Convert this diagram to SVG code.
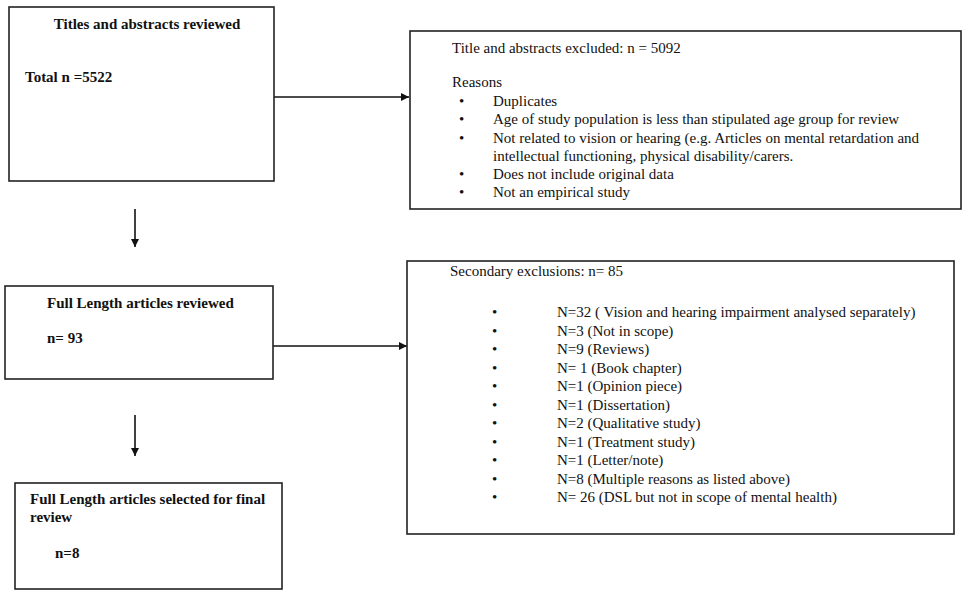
<svg xmlns="http://www.w3.org/2000/svg" width="964" height="591" viewBox="0 0 964 591">
<defs>
<style>
.box{fill:#fff;stroke:#222;stroke-width:1.6}
text{font-family:"Liberation Serif","Times New Roman",serif;font-size:15px;fill:#111}
.b{font-weight:bold}
.line{stroke:#111;stroke-width:1.6;fill:none}
</style>
<marker id="ah" viewBox="0 0 10 10" refX="10" refY="5" markerWidth="8" markerHeight="8" markerUnits="userSpaceOnUse" orient="auto">
<path d="M0,0 L10,5 L0,10 z" fill="#111"/>
</marker>
</defs>
<rect width="964" height="591" fill="#fff"/>
<g id="connectors">
<line class="line" x1="274" y1="97" x2="409" y2="97" marker-end="url(#ah)"/>
<line class="line" x1="135" y1="209" x2="135" y2="247" marker-end="url(#ah)"/>
<line class="line" x1="273" y1="346" x2="407" y2="346" marker-end="url(#ah)"/>
<line class="line" x1="135" y1="415" x2="135" y2="456" marker-end="url(#ah)"/>
</g>
<g id="n1">
<rect class="box" x="9" y="7" width="265" height="174"/>
<text class="b" x="147" y="29" text-anchor="middle">Titles and abstracts reviewed</text>
<text class="b" x="25" y="82">Total n =5522</text>
</g>
<g id="n2">
<rect class="box" x="410" y="31" width="551" height="178"/>
<text x="452" y="53">Title and abstracts excluded: n = 5092</text>
<text x="452" y="87">Reasons</text>
<g>
<text x="459" y="106">•</text><text x="493" y="106">Duplicates</text>
<text x="459" y="124">•</text><text x="493" y="124">Age of study population is less than stipulated age group for review</text>
<text x="459" y="142.5">•</text><text x="493" y="142.5">Not related to vision or hearing (e.g. Articles on mental retardation and</text>
<text x="493" y="160.5">intellectual functioning, physical disability/carers.</text>
<text x="459" y="179">•</text><text x="493" y="179">Does not include original data</text>
<text x="459" y="197">•</text><text x="493" y="197">Not an empirical study</text>
</g>
</g>
<g id="n3">
<rect class="box" x="5" y="286" width="268" height="93"/>
<text class="b" x="47" y="308">Full Length articles reviewed</text>
<text class="b" x="47" y="343">n= 93</text>
</g>
<g id="n4">
<rect class="box" x="407" y="261" width="547" height="273"/>
<text x="450" y="276">Secondary exclusions: n= 85</text>
<text x="492" y="317">•</text><text x="557" y="317">N=32 ( Vision and hearing impairment analysed separately)</text>
<text x="492" y="335.5">•</text><text x="557" y="335.5">N=3 (Not in scope)</text>
<text x="492" y="354">•</text><text x="557" y="354">N=9 (Reviews)</text>
<text x="492" y="372.5">•</text><text x="557" y="372.5">N= 1 (Book chapter)</text>
<text x="492" y="391">•</text><text x="557" y="391">N=1 (Opinion piece)</text>
<text x="492" y="409.5">•</text><text x="557" y="409.5">N=1 (Dissertation)</text>
<text x="492" y="428">•</text><text x="557" y="428">N=2 (Qualitative study)</text>
<text x="492" y="446.5">•</text><text x="557" y="446.5">N=1 (Treatment study)</text>
<text x="492" y="465">•</text><text x="557" y="465">N=1 (Letter/note)</text>
<text x="492" y="483.5">•</text><text x="557" y="483.5">N=8 (Multiple reasons as listed above)</text>
<text x="492" y="502">•</text><text x="557" y="502">N= 26 (DSL but not in scope of mental health)</text>
</g>
<g id="n5">
<rect class="box" x="15" y="483" width="267" height="106"/>
<text class="b" x="30" y="504">Full Length articles selected for final</text>
<text class="b" x="30" y="522">review</text>
<text class="b" x="55" y="558">n=8</text>
</g>
</svg>
